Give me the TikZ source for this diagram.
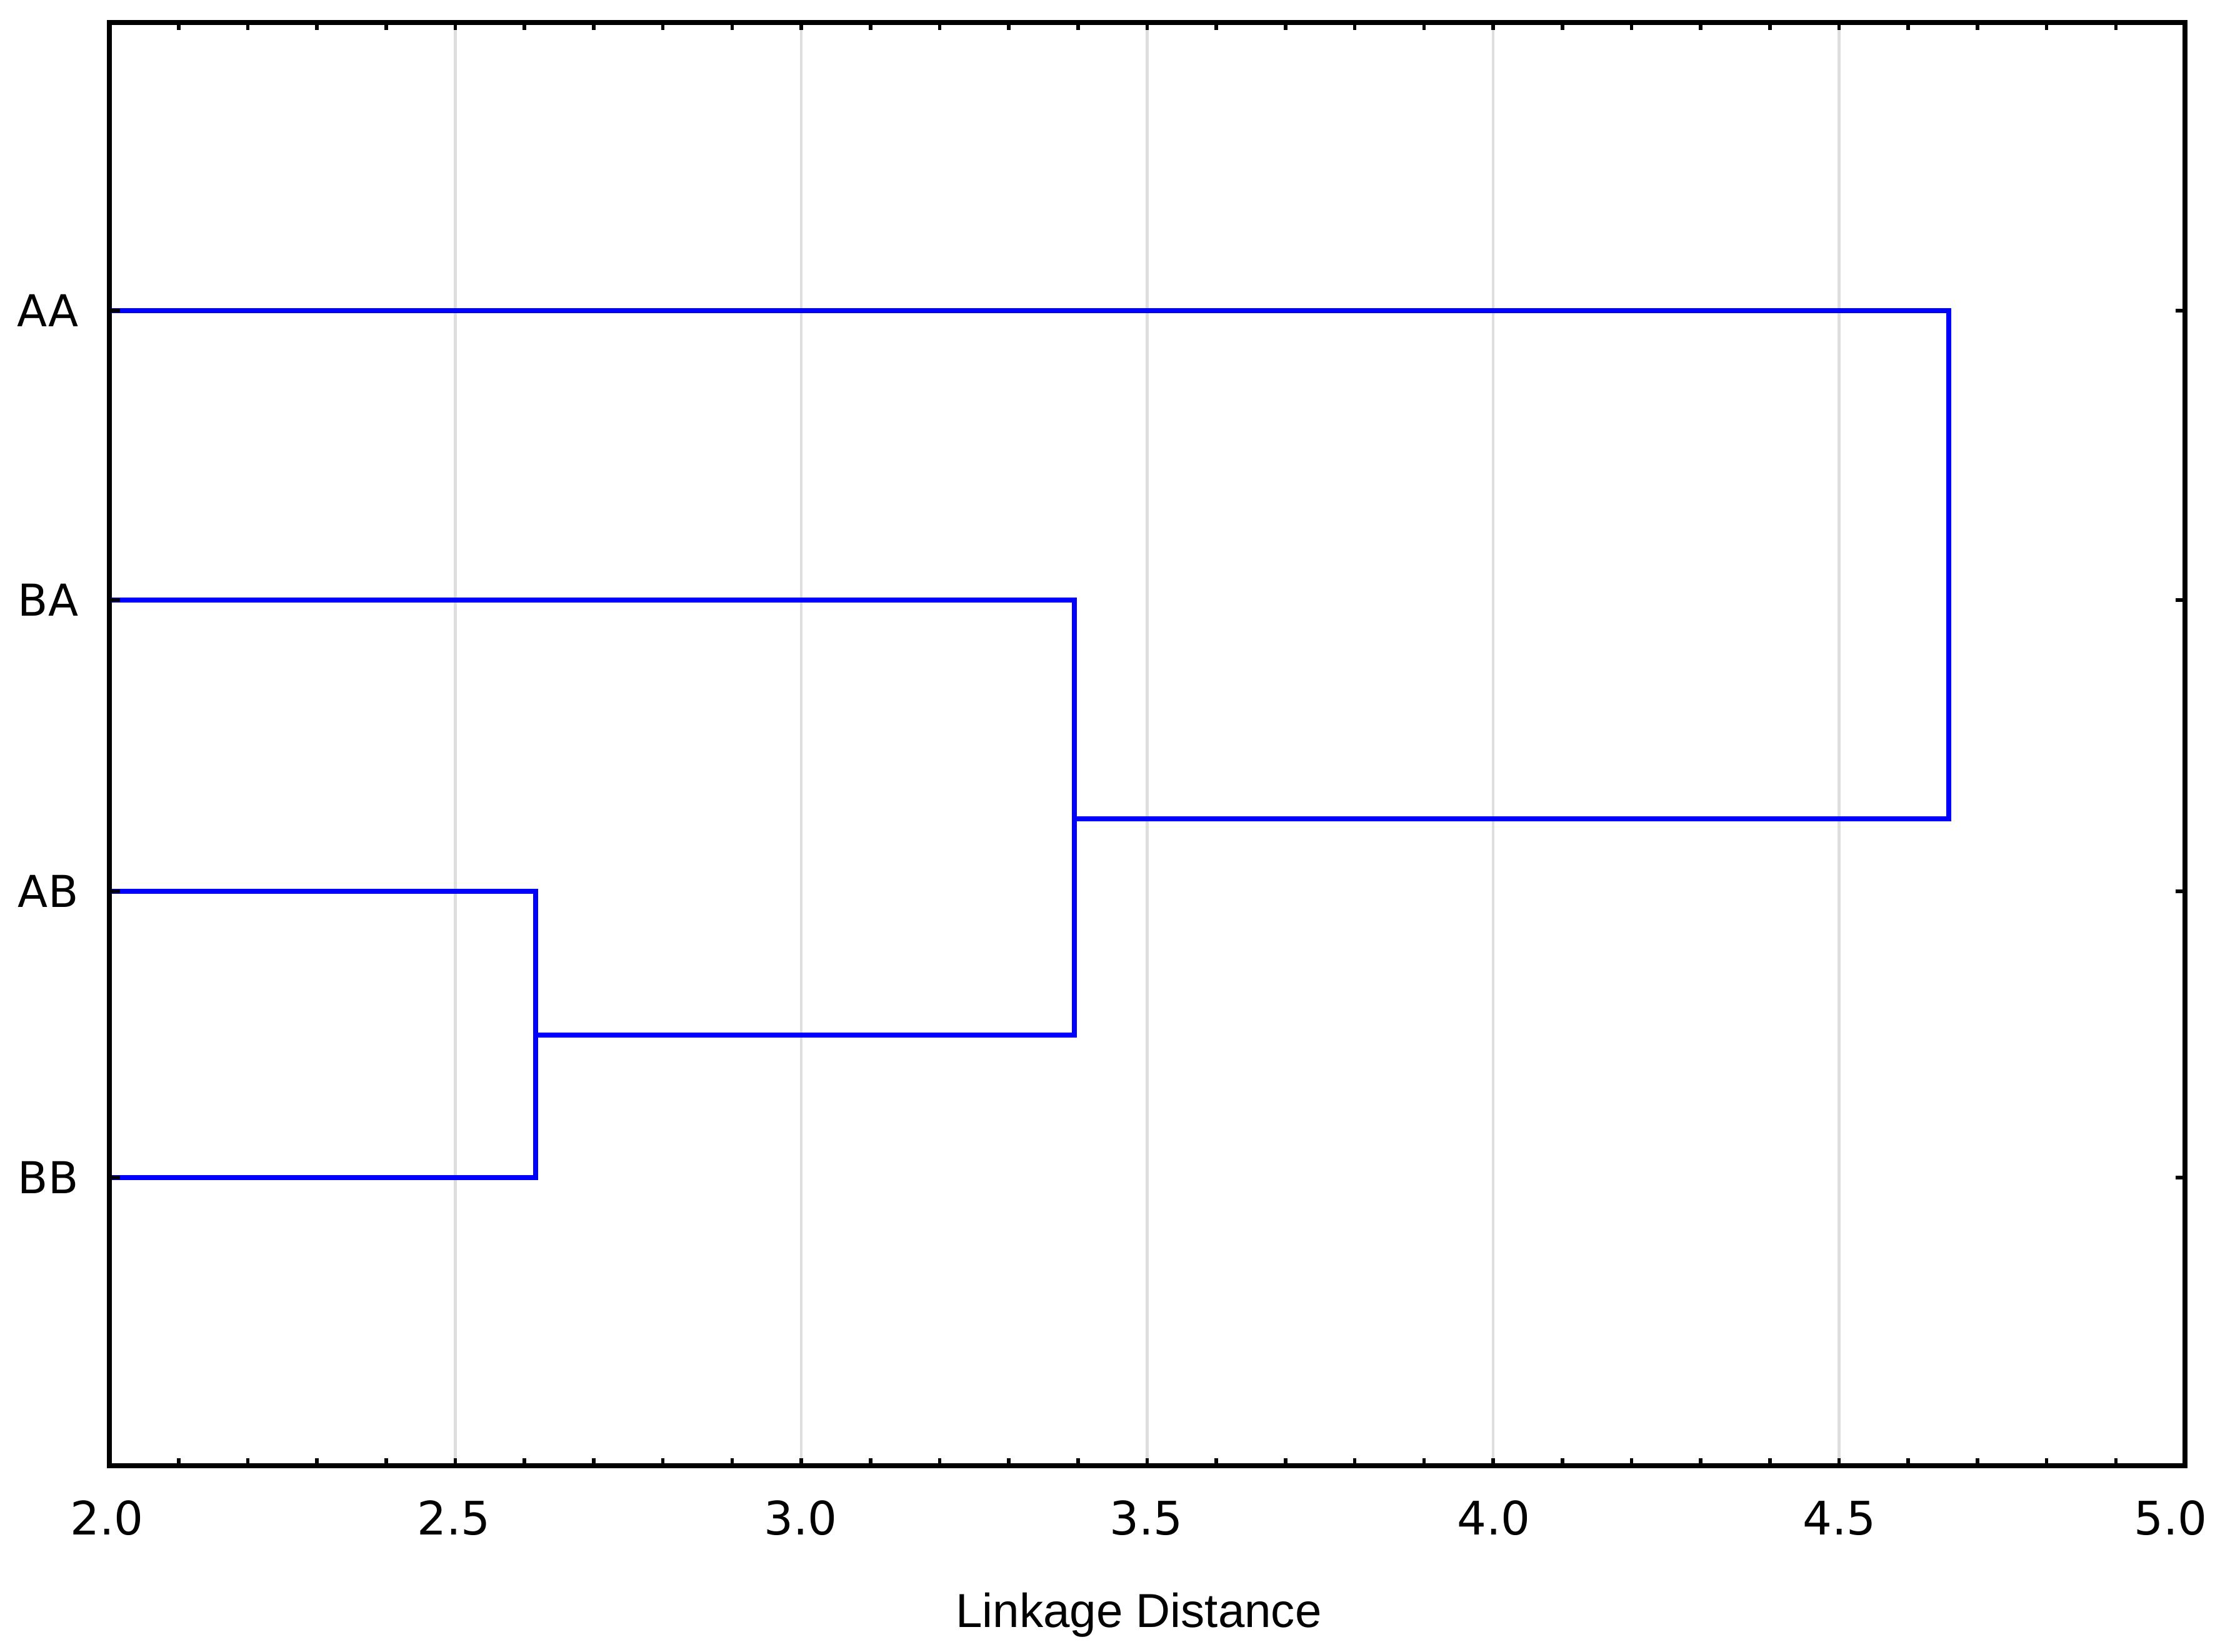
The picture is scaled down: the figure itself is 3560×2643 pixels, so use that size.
\documentclass[tikz,border=0pt]{standalone}
\usepackage{fontspec}
\setmainfont{DejaVu Sans}
\newfontfamily\arialfont{Liberation Sans}
\begin{document}
\begin{tikzpicture}[x=0.01cm,y=-0.01cm,
  frame/.style={line width=2.3pt,black},
  grid/.style={line width=1.2pt,color=black!13},
  branch/.style={line width=2.4pt,color={rgb,255:red,0;green,0;blue,255}},
  tickmark/.style={line width=1.6pt,black},
  ticklabel/.style={font=\fontsize{21}{25}\selectfont,inner sep=0pt},
  leaflabel/.style={font=\fontsize{20}{24}\selectfont,inner sep=0pt,anchor=east},
  axislabel/.style={font=\arialfont\fontsize{21.7}{26}\selectfont,inner sep=0pt}]
\useasboundingbox (0,0) rectangle (3560,2643);
% gridlines
\foreach \v in {1,2,3,4,5}{
  \draw[grid] ({175+553.5*\v},36) -- ({175+553.5*\v},2345);
}
% leaf coordinates
\coordinate (aa) at (175,497);
\coordinate (ba) at (175,960);
\coordinate (ab) at (175,1426);
\coordinate (bb) at (175,1884);
% merge coordinates
\coordinate (m1t) at (857,1426);
\coordinate (m1b) at (857,1884);
\coordinate (m1) at (857,1656);
\coordinate (m2t) at (1719,960);
\coordinate (m2b) at (1719,1656);
\coordinate (m2) at (1719,1310);
\coordinate (m3t) at (3118,497);
\coordinate (m3b) at (3118,1310);
% branches
\draw[branch] (ab) -- (m1t) -- (m1b) -- (bb);
\draw[branch] (m1) -- (m2b) -- (m2t) -- (ba);
\draw[branch] (m2) -- (m3b) -- (m3t) -- (aa);
% ticks top and bottom every 0.1
\foreach \i in {1,...,29}{
  \draw[tickmark] ({175+110.7*\i},2345) -- ({175+110.7*\i},2333);
  \draw[tickmark] ({175+110.7*\i},36) -- ({175+110.7*\i},48);
}
% ticks left and right at leaves
\foreach \y in {497,960,1426,1884}{
  \draw[tickmark] (175,\y) -- (192,\y);
  \draw[tickmark] (3496,\y) -- (3481,\y);
}
% frame
\draw[frame] (175,36) rectangle (3496,2345);
% tick labels
\node[ticklabel] (t20) at (171,2429) {2.0};
\node[ticklabel] (t25) at (726,2429) {2.5};
\node[ticklabel] (t30) at (1281,2429) {3.0};
\node[ticklabel] (t35) at (1834,2429) {3.5};
\node[ticklabel] (t40) at (2390,2429) {4.0};
\node[ticklabel] (t45) at (2943,2429) {4.5};
\node[ticklabel] (t50) at (3473,2429) {5.0};
% leaf labels
\node[leaflabel] (laa) at (126,497) {AA};
\node[leaflabel] (lba) at (126,960) {BA};
\node[leaflabel] (lab) at (126,1426) {AB};
\node[leaflabel] (lbb) at (126,1884) {BB};
% axis label
\node[axislabel] (xl) at (1822,2584) {Linkage Distance};
\end{tikzpicture}
\end{document}
